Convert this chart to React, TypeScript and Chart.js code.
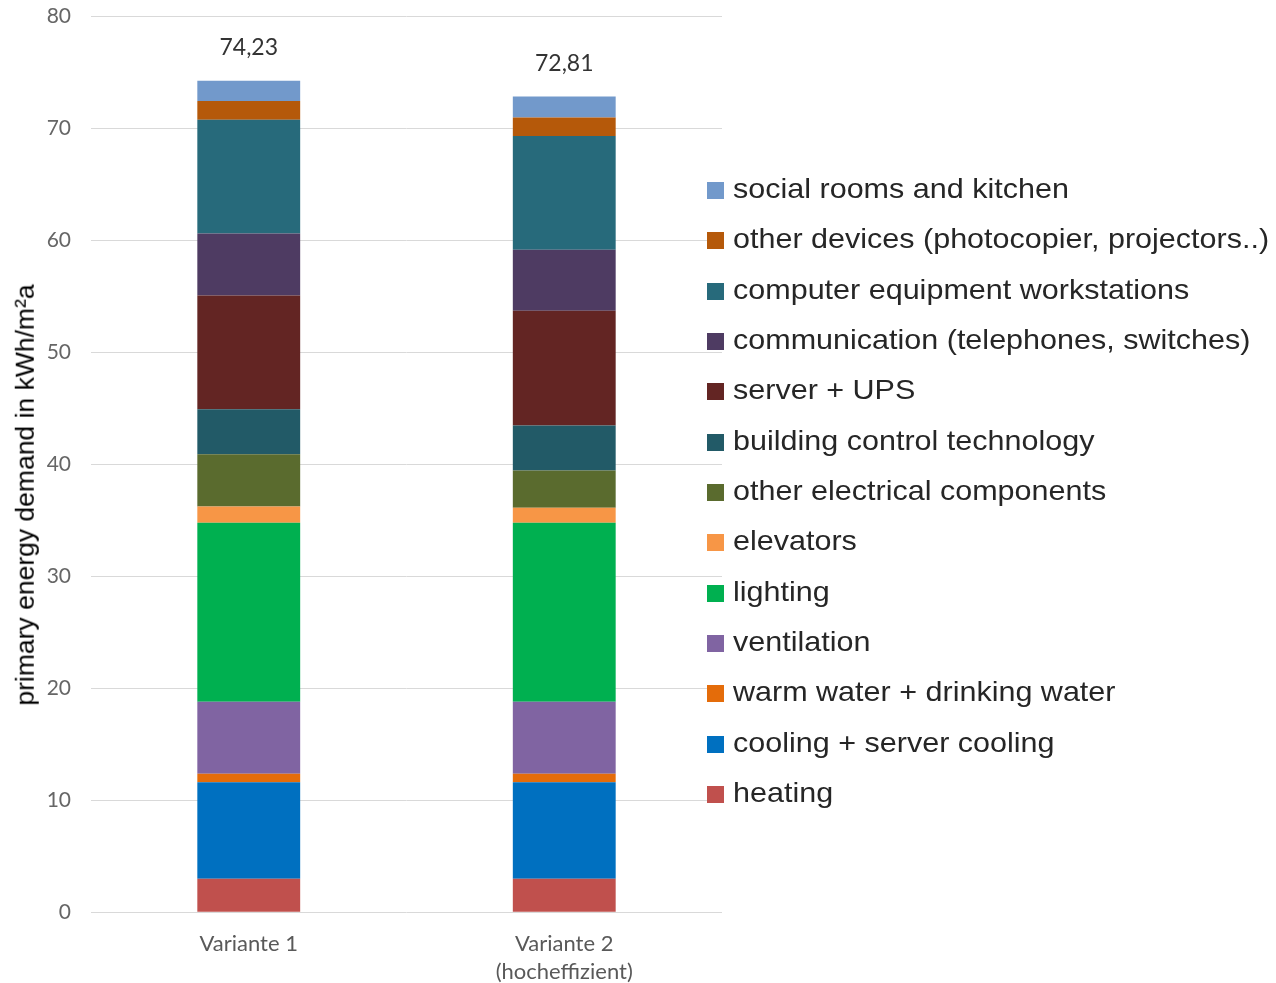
import React, { useEffect, useRef } from "react";
import { Chart, registerables } from "chart.js";

Chart.register(...registerables);

const categories: string[][] = [["Variante 1"], ["Variante 2", "(hocheffizient)"]];

// bottom-to-top stacking order
const seriesNames: string[] = [
  "heating",
  "cooling + server cooling",
  "warm water + drinking water",
  "ventilation",
  "lighting",
  "elevators",
  "other electrical components",
  "building control technology",
  "server + UPS",
  "communication (telephones, switches)",
  "computer equipment workstations",
  "other devices (photocopier, projectors..)",
  "social rooms and kitchen",
];

const seriesColors: string[] = [
  "#c0504d",
  "#0070c0",
  "#e46c0a",
  "#8064a2",
  "#00b050",
  "#f79646",
  "#5a6b2e",
  "#225a67",
  "#632523",
  "#4e3b62",
  "#276a7b",
  "#b5590a",
  "#7299cb",
];

const variante1: number[] = [3.0, 8.6, 0.77, 6.43, 15.96, 1.45, 4.68, 4.02, 10.14, 5.54, 10.15, 1.67, 1.82];
const variante2: number[] = [3.0, 8.6, 0.77, 6.43, 15.96, 1.34, 3.33, 4.02, 10.24, 5.44, 10.16, 1.66, 1.86];

const totals: number[] = [74.23, 72.81];
const totalLabels: string[] = ["74,23", "72,81"];

const yTickValues: number[] = [0, 10, 20, 30, 40, 50, 60, 70, 80];

const yTitle = "primary energy demand in kWh/m²a";

const totalsPlugin = {
  id: "totalsPlugin",
  afterDatasetsDraw(chart: any) {
    const ctx = chart.ctx;
    const meta = chart.getDatasetMeta(seriesNames.length - 1);
    const yScale = chart.scales.y;
    ctx.save();
    ctx.font = "23px Lato";
    ctx.fillStyle = "#333333";
    ctx.textAlign = "center";
    ctx.textBaseline = "alphabetic";
    totals.forEach((t, i) => {
      const el = meta.data[i];
      const y = yScale.getPixelForValue(t);
      ctx.fillText(totalLabels[i], el.x, y - 26);
    });
    ctx.restore();
  },
};

export default function App() {
  const canvasRef = useRef<HTMLCanvasElement | null>(null);

  useEffect(() => {
    if (!canvasRef.current) return;
    const datasets = seriesNames.map((name, i) => ({
      label: name,
      data: [variante1[i], variante2[i]],
      backgroundColor: seriesColors[i],
      borderWidth: 0,
      barPercentage: 0.326,
      categoryPercentage: 1,
    }));
    const chart = new Chart(canvasRef.current, {
      type: "bar",
      data: { labels: categories as any, datasets },
      options: {
        animation: false,
        responsive: true,
        maintainAspectRatio: false,
        layout: { padding: { left: 0, right: 554, top: 0, bottom: 0 } },
        plugins: {
          legend: { display: false },
          tooltip: { enabled: false },
          title: { display: false },
        },
        scales: {
          x: {
            stacked: true,
            grid: { display: false, drawTicks: false },
            border: { display: false },
            ticks: {
              color: "#595959",
              font: { family: "Lato", size: 22, lineHeight: 1.3 },
              padding: 17,
              maxRotation: 0,
            },
            afterFit: (s: any) => {
              s.height = 70.7;
            },
          },
          y: {
            stacked: true,
            min: 0,
            max: 80,
            afterBuildTicks: (s: any) => {
              s.ticks = yTickValues.map((v) => ({ value: v }));
            },
            grid: { color: "#d9d9d9", lineWidth: 1, drawTicks: false },
            border: { display: false },
            ticks: {
              color: "#666666",
              font: { family: "Lato", size: 21 },
              padding: 20,
            },
            afterFit: (s: any) => {
              s.width = 91;
              s.paddingTop = 16;
              s.paddingBottom = 16;
            },
          },
        },
      },
      plugins: [totalsPlugin],
    });
    return () => chart.destroy();
  }, []);

  const legendItems = seriesNames.map((n, i) => ({ name: n, color: seriesColors[i] })).reverse();

  return (
    <div style={{ position: "absolute", left: 0, top: 0, width: 1276, height: 983, background: "#fff" }}>
      <canvas ref={canvasRef} style={{ position: "absolute", left: 0, top: 0, width: 1276, height: 983 }} />
      <div
        style={{
          position: "absolute",
          left: 25,
          top: 494.5,
          transform: "translate(-50%, -50%) rotate(-90deg)",
          whiteSpace: "nowrap",
          fontFamily: "'Liberation Sans', Arial, sans-serif",
          fontSize: 26.5,
          lineHeight: 1,
          color: "#000",
        }}
      >
        {yTitle}
      </div>
      {legendItems.map((it, i) => (
        <div
          key={it.name}
          style={{
            position: "absolute",
            left: 707,
            top: 189 + i * 50.33 - 25,
            height: 50,
            display: "flex",
            alignItems: "center",
            whiteSpace: "nowrap",
          }}
        >
          <div style={{ width: 17, height: 17, background: it.color, marginRight: 9, marginTop: 3 }} />
          <div
            style={{
              fontFamily: "'Liberation Sans', Arial, sans-serif",
              fontSize: 28,
              lineHeight: "50px",
              color: "#262626",
              transform: "scaleX(1.09)",
              transformOrigin: "left center",
            }}
          >
            {it.name}
          </div>
        </div>
      ))}
    </div>
  );
}
